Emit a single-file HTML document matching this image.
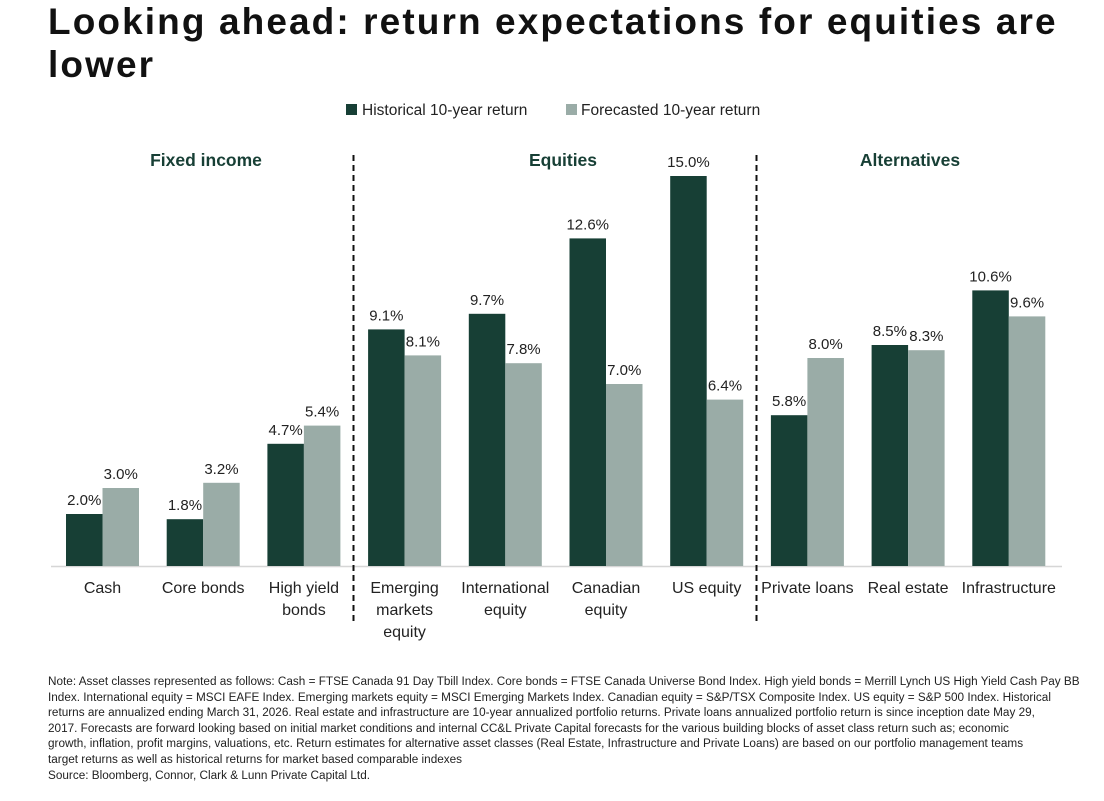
<!DOCTYPE html>
<html><head><meta charset="utf-8">
<style>
body{margin:0;background:#fff;width:1104px;height:801px;overflow:hidden;font-family:"Liberation Sans","DejaVu Sans",sans-serif;}
h1{position:absolute;left:48px;top:0px;margin:0;font-size:37px;line-height:43px;font-weight:bold;color:#111;white-space:nowrap;letter-spacing:2.1px;}
#note{position:absolute;left:48px;top:674px;font-size:11.75px;line-height:15.6px;color:#222;white-space:nowrap;}
</style></head><body>
<h1>Looking ahead: return expectations for equities are<br>lower</h1>
<svg id="chart" width="1104" height="670" style="position:absolute;left:0;top:0" font-family="Liberation Sans, DejaVu Sans, sans-serif"></svg>
<div id="note">Note: Asset classes represented as follows: Cash = FTSE Canada 91 Day Tbill Index. Core bonds = FTSE Canada Universe Bond Index. High yield bonds = Merrill Lynch US High Yield Cash Pay BB<br>Index. International equity = MSCI EAFE Index. Emerging markets equity = MSCI Emerging Markets Index. Canadian equity = S&amp;P/TSX Composite Index. US equity = S&amp;P 500 Index. Historical<br>returns are annualized ending March 31, 2026. Real estate and infrastructure are 10-year annualized portfolio returns. Private loans annualized portfolio return is since inception date May 29,<br>2017. Forecasts are forward looking based on initial market conditions and internal CC&amp;L Private Capital forecasts for the various building blocks of asset class return such as; economic<br>growth, inflation, profit margins, valuations, etc. Return estimates for alternative asset classes (Real Estate, Infrastructure and Private Loans) are based on our portfolio management teams<br>target returns as well as historical returns for market based comparable indexes<br>Source: Bloomberg, Connor, Clark &amp; Lunn Private Capital Ltd.</div>
<script>
const categories=[["Cash"],["Core bonds"],["High yield","bonds"],["Emerging","markets","equity"],["International","equity"],["Canadian","equity"],["US equity"],["Private loans"],["Real estate"],["Infrastructure"]];
const historical=[2.0,1.8,4.7,9.1,9.7,12.6,15.0,5.8,8.5,10.6];
const forecast=[3.0,3.2,5.4,8.1,7.8,7.0,6.4,8.0,8.3,9.6];
const sections=["Fixed income","Equities","Alternatives"];
const NS="http://www.w3.org/2000/svg";
const svg=document.getElementById('chart');
const base=566, pxPer=26, x0=66, step=100.7, bw=36.5;
const y=v=>base-v*pxPer;
const gx=i=>x0+i*step;
function mk(t,a,txt){const e=document.createElementNS(NS,t);for(const k in a)e.setAttribute(k,a[k]);if(txt!=null)e.textContent=txt;svg.appendChild(e);return e;}
let e=mk('rect',{x:346,y:104,width:11,height:11,fill:'#173f35'});

e=mk('text',{x:362,y:115,'font-size':15.5,fill:'#222'},'Historical 10-year return');

e=mk('rect',{x:566,y:104,width:11,height:11,fill:'#9aaca7'});

e=mk('text',{x:581,y:115,'font-size':15.5,fill:'#222'},'Forecasted 10-year return');

const secX=[206,563,910];
sections.forEach((s,i)=>{e=mk('text',{x:secX[i],y:166,'font-size':17.5,'font-weight':'bold',fill:'#173f35','text-anchor':'middle'},s);
});
e=mk('line',{x1:51,x2:1062,y1:base+0.5,y2:base+0.5,stroke:'#d6d6d6','stroke-width':1.5});

[353.5,756.5].forEach((dx,i)=>{e=mk('line',{x1:dx,x2:dx,y1:155,y2:622,stroke:'#111','stroke-width':2,'stroke-dasharray':'6,4'});
});
categories.forEach((c,i)=>{
  const x=gx(i);
  e=mk('rect',{x:x,y:y(historical[i]),width:bw,height:historical[i]*pxPer,fill:'#173f35'});
  
  e=mk('rect',{x:x+bw,y:y(forecast[i]),width:bw,height:forecast[i]*pxPer,fill:'#9aaca7'});
  
  e=mk('text',{x:x+bw/2,y:y(historical[i])-9,'font-size':15,fill:'#222','text-anchor':'middle'},historical[i].toFixed(1)+'%');
  
  e=mk('text',{x:x+bw*1.5,y:y(forecast[i])-9,'font-size':15,fill:'#222','text-anchor':'middle'},forecast[i].toFixed(1)+'%');
  
  c.forEach((ln,j)=>{e=mk('text',{x:x+bw,y:593+j*22,'font-size':16,fill:'#222','text-anchor':'middle'},ln);
  });
});
</script>
</body></html>
